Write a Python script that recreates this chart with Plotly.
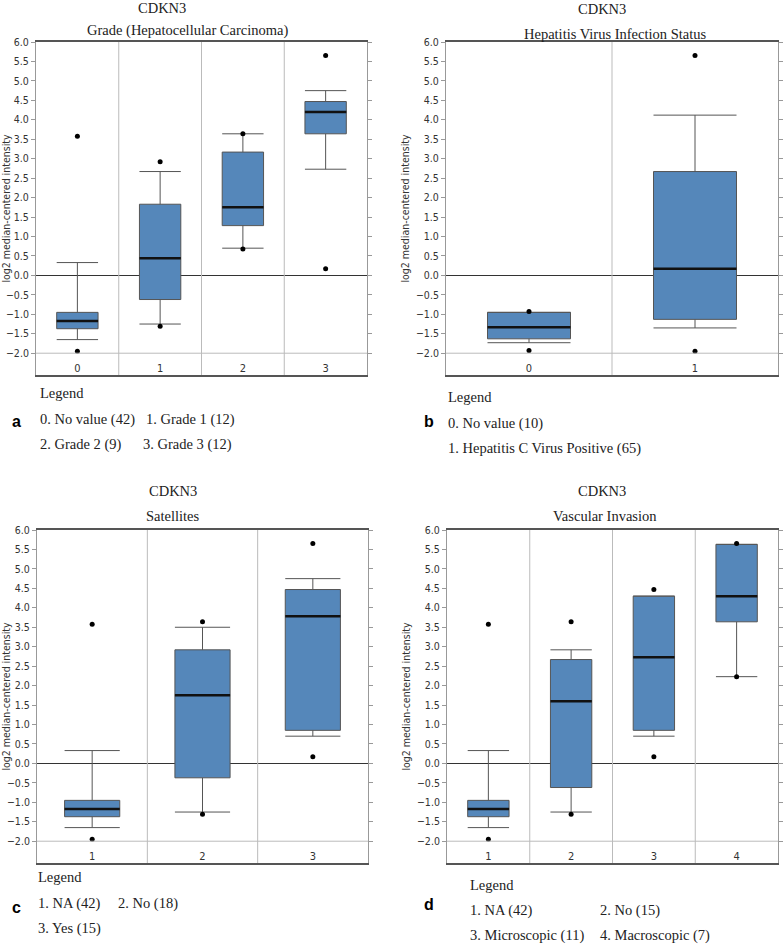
import plotly.graph_objects as go

W, H = 784, 944

# ---- panel a: Grade (Hepatocellular Carcinoma)
a_cats = ["0", "1", "2", "3"]
a_q1 = [-1.37, -0.62, 1.28, 3.64]
a_med = [-1.17, 0.44, 1.75, 4.20]
a_q3 = [-0.95, 1.83, 3.17, 4.47]
a_lo = [-1.65, -1.25, 0.70, 2.73]
a_hi = [0.33, 2.67, 3.64, 4.75]
a_out = [[3.58, -1.95], [2.92, -1.31], [3.64, 0.68], [5.65, 0.17]]
a_legend = ["0. No value (42)", "1. Grade 1 (12)", "2. Grade 2 (9)", "3. Grade 3 (12)"]

# ---- panel b: Hepatitis Virus Infection Status
b_cats = ["0", "1"]
b_q1 = [-1.63, -1.13]
b_med = [-1.33, 0.17]
b_q3 = [-0.95, 2.67]
b_lo = [-1.73, -1.35]
b_hi = [-0.95, 4.12]
b_out = [[-0.93, -1.93], [5.65, -1.95]]
b_legend = ["0. No value (10)", "1. Hepatitis C Virus Positive (65)"]

# ---- panel c: Satellites
c_cats = ["1", "2", "3"]
c_q1 = [-1.37, -0.37, 0.85]
c_med = [-1.17, 1.75, 3.78]
c_q3 = [-0.95, 2.92, 4.47]
c_lo = [-1.65, -1.25, 0.70]
c_hi = [0.33, 3.50, 4.75]
c_out = [[3.58, -1.95], [3.64, -1.31], [5.65, 0.17]]
c_legend = ["1. NA (42)", "2. No (18)", "3. Yes (15)"]

# ---- panel d: Vascular Invasion
d_cats = ["1", "2", "3", "4"]
d_q1 = [-1.37, -0.62, 0.85, 3.64]
d_med = [-1.17, 1.60, 2.73, 4.30]
d_q3 = [-0.95, 2.67, 4.30, 5.63]
d_lo = [-1.65, -1.25, 0.70, 2.23]
d_hi = [0.33, 2.92, 4.30, 5.63]
d_out = [[3.58, -1.95], [3.64, -1.31], [4.47, 0.17], [5.65, 2.23]]
d_legend = ["1. NA (42)", "2. No (15)", "3. Microscopic (11)", "4. Macroscopic (7)"]

BOX_FILL = "#5587ba"
SERIF = "Liberation Serif, Times New Roman, serif"
NARROW = "DejaVu Sans Condensed, Liberation Sans Narrow, DejaVu Sans, sans-serif"


def px(x):
    return x / W


def py(y):
    return 1 - y / H


fig = go.Figure()
shapes = []
annotations = []


def add_panel(k, cats, q1, med, q3, lo, hi, outs, box, titles, letter, legend):
    axk = "" if k == 1 else str(k)
    xa, ya = "x" + axk, "y" + axk
    pos = list(range(len(cats)))
    fig.add_trace(go.Box(
        x=pos, q1=q1, median=med, q3=q3, lowerfence=lo, upperfence=hi,
        width=0.5, whiskerwidth=1, fillcolor=BOX_FILL,
        line=dict(color="#555555", width=1), boxpoints=False,
        xaxis=xa, yaxis=ya, showlegend=False, hoverinfo="skip"))
    # thick black median line
    fig.add_trace(go.Box(
        x=pos, q1=med, median=med, q3=med, lowerfence=med, upperfence=med,
        width=0.5, whiskerwidth=0, fillcolor="rgba(0,0,0,0)",
        line=dict(color="#111111", width=2.5), boxpoints=False,
        xaxis=xa, yaxis=ya, showlegend=False, hoverinfo="skip"))
    ox, oy = [], []
    for i, vals in enumerate(outs):
        for v in vals:
            ox.append(i)
            oy.append(v)
    fig.add_trace(go.Scatter(x=ox, y=oy, mode="markers",
                             marker=dict(color="black", size=5),
                             xaxis=xa, yaxis=ya, showlegend=False, hoverinfo="skip"))

    x0, y0, x1, y1 = box
    fig.update_layout(**{
        "xaxis" + axk: dict(
            domain=[px(x0), px(x1)], anchor=ya, range=[-0.5, len(cats) - 0.5],
            tickvals=pos, ticktext=cats, ticklabelposition="inside", ticks="",
            showgrid=False, zeroline=False, showline=True, linecolor="#555555",
            linewidth=1.5, mirror=True, automargin=False,
            tickfont=dict(family=NARROW, size=11, color="#333333")),
        "yaxis" + axk: dict(
            domain=[py(y1), py(y0)], anchor=xa, range=[-2.56, 6.0],
            dtick=0.5, tick0=0, tickformat=".1f", ticks="outside", ticklen=4,
            tickcolor="#999999", showgrid=False, zeroline=True,
            zerolinecolor="#333333", zerolinewidth=1, showline=True,
            linecolor="#999999", mirror="ticks", automargin=False,
            tickfont=dict(family=NARROW, size=10.5, color="#333333"),
            title=dict(text="log2 median-centered intensity", standoff=4,
                       font=dict(family=NARROW, size=10.5, color="#333333"))),
    })
    shapes.append(dict(type="line", xref=xa + " domain", yref=ya, x0=0, x1=1,
                       y0=-2, y1=-2, line=dict(color="#bbbbbb", width=1)))
    for i in pos[:-1]:
        shapes.append(dict(type="line", xref=xa, yref=ya + " domain",
                           x0=i + 0.5, x1=i + 0.5, y0=0, y1=1,
                           line=dict(color="#bbbbbb", width=1)))

    for (text, tx, ty) in titles:
        annotations.append(dict(text=text, x=px(tx), y=py(ty), xref="paper", yref="paper",
                                showarrow=False, xanchor="center", yanchor="middle",
                                font=dict(family=SERIF, size=14.5, color="#222222")))
    lt, lx, ly = letter
    annotations.append(dict(text="<b>%s</b>" % lt, x=px(lx), y=py(ly), xref="paper",
                            yref="paper", showarrow=False, xanchor="left", yanchor="middle",
                            font=dict(family="Liberation Sans, Arial, sans-serif", size=16,
                                      color="black")))
    for (text, tx, ty) in legend:
        annotations.append(dict(text=text, x=px(tx), y=py(ty), xref="paper", yref="paper",
                                showarrow=False, xanchor="left", yanchor="middle",
                                font=dict(family=SERIF, size=14.5, color="#222222")))


add_panel(1, a_cats, a_q1, a_med, a_q3, a_lo, a_hi, a_out, (36, 42, 367, 375),
          [("CDKN3", 162, 8), ("Grade (Hepatocellular Carcinoma)", 187, 30)],
          ("a", 10, 421),
          [("Legend", 38, 393), (a_legend[0], 38, 420), (a_legend[1], 144, 420),
           (a_legend[2], 38, 444), (a_legend[3], 141, 444)])

add_panel(2, b_cats, b_q1, b_med, b_q3, b_lo, b_hi, b_out, (446, 42, 778, 375),
          [("CDKN3", 602, 9), ("Hepatitis Virus Infection Status", 615, 34)],
          ("b", 422, 421),
          [("Legend", 446, 397), (b_legend[0], 446, 423), (b_legend[1], 446, 448)])

add_panel(3, c_cats, c_q1, c_med, c_q3, c_lo, c_hi, c_out, (37, 530, 368, 863),
          [("CDKN3", 173, 491), ("Satellites", 173, 516)],
          ("c", 10, 907),
          [("Legend", 36, 877), (c_legend[0], 36, 903), (c_legend[1], 116, 903),
           (c_legend[2], 36, 928)])

add_panel(4, d_cats, d_q1, d_med, d_q3, d_lo, d_hi, d_out, (447, 530, 778, 863),
          [("CDKN3", 602, 491), ("Vascular Invasion", 605, 516)],
          ("d", 422, 904),
          [("Legend", 468, 885), (d_legend[0], 468, 910), (d_legend[1], 598, 910),
           (d_legend[2], 468, 935), (d_legend[3], 598, 935)])

fig.update_layout(width=W, height=H, margin=dict(l=0, r=0, t=0, b=0),
                  paper_bgcolor="white", plot_bgcolor="white", boxmode="overlay",
                  shapes=shapes, annotations=annotations)

# remove the default page margin so the figure sits at the window's corner
fig.write_html("out.html", config={"displayModeBar": False},
               post_script="document.body.style.margin='0';")
